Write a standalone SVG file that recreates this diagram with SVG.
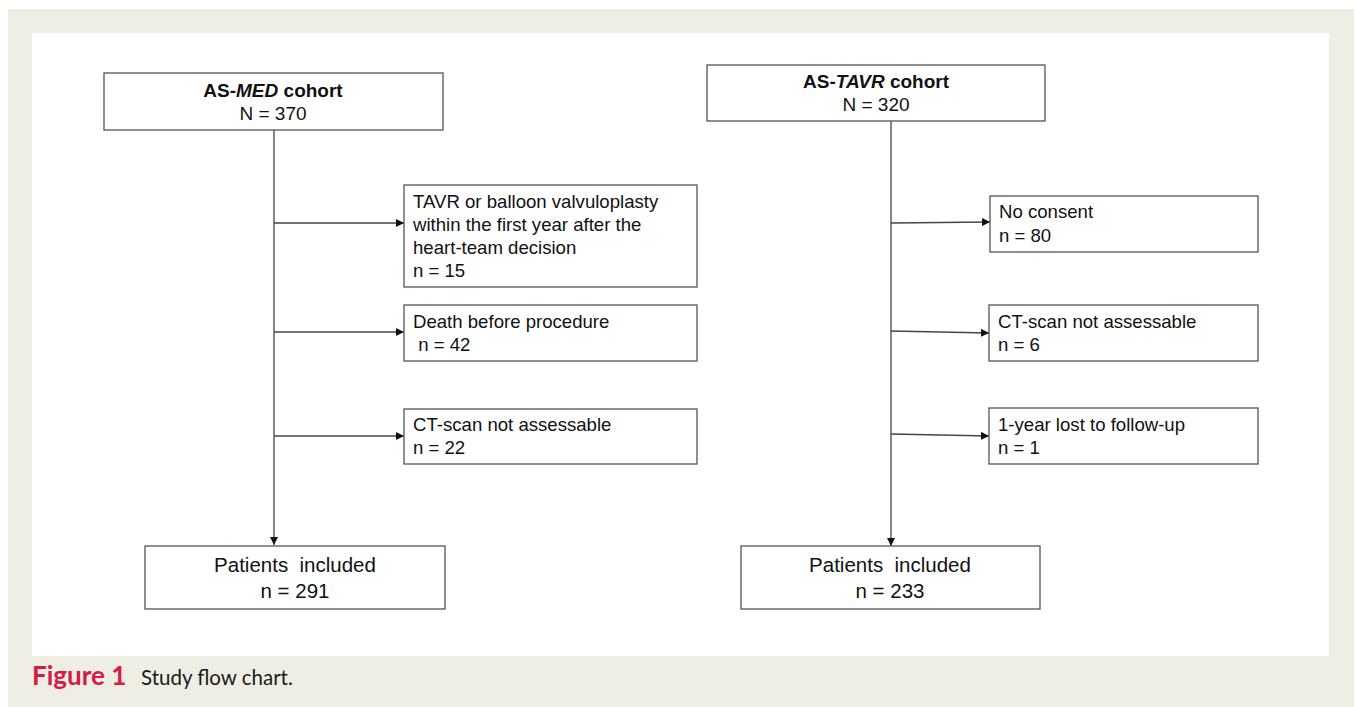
<svg xmlns="http://www.w3.org/2000/svg" width="1356" height="707" viewBox="0 0 1356 707">
<defs>
<marker id="arr" viewBox="0 0 10 10" refX="10" refY="5" markerWidth="8" markerHeight="8" markerUnits="userSpaceOnUse" orient="auto">
<path d="M0,0 L10,5 L0,10 z" fill="#111"/>
</marker>
<style>
.box{fill:#fff;stroke:#555;stroke-width:1.3}
.t{font-family:"Liberation Sans",Arial,sans-serif;font-size:18.6px;fill:#111}
.h{font-family:"Liberation Sans",Arial,sans-serif;font-size:19px;fill:#111;text-anchor:middle}
.p{font-family:"Liberation Sans",Arial,sans-serif;font-size:20.5px;fill:#111;text-anchor:middle}
.c{stroke:#444;stroke-width:1.3;fill:none}
</style>
</defs>
<rect x="0" y="0" width="1356" height="707" fill="#fff"/>
<rect x="8" y="9" width="1346" height="698" fill="#efeee4"/>
<rect x="32" y="33" width="1297" height="623" fill="#fff"/>

<g id="connectors">
<path class="c" d="M274,130 V545" marker-end="url(#arr)"/>
<path class="c" d="M274,223 H404" marker-end="url(#arr)"/>
<path class="c" d="M274,332 H404" marker-end="url(#arr)"/>
<path class="c" d="M274,436 H404" marker-end="url(#arr)"/>
<path class="c" d="M891,121 V546" marker-end="url(#arr)"/>
<path class="c" d="M891,223 L990,222" marker-end="url(#arr)"/>
<path class="c" d="M891,331 L989,333" marker-end="url(#arr)"/>
<path class="c" d="M891,434 L989,436" marker-end="url(#arr)"/>
</g>

<g id="med">
<rect class="box" x="104" y="73" width="339" height="57"/>
<text class="h" x="273" y="97"><tspan font-weight="bold">AS-<tspan font-style="italic">MED</tspan> cohort</tspan></text>
<text class="h" x="273" y="120">N = 370</text>
</g>

<g id="tavr-cohort">
<rect class="box" x="707" y="65" width="338" height="56"/>
<text class="h" x="876" y="88"><tspan font-weight="bold">AS-<tspan font-style="italic">TAVR</tspan> cohort</tspan></text>
<text class="h" x="876" y="111">N = 320</text>
</g>

<g id="ex-tavr">
<rect class="box" x="404" y="185" width="293" height="102"/>
<text class="t" x="413" y="208">TAVR or balloon valvuloplasty</text>
<text class="t" x="413" y="231">within the first year after the</text>
<text class="t" x="413" y="254">heart-team decision</text>
<text class="t" x="413" y="277">n = 15</text>
</g>

<g id="ex-death">
<rect class="box" x="404" y="305" width="293" height="56"/>
<text class="t" x="413" y="328">Death before procedure</text>
<text class="t" x="413" y="351" xml:space="preserve"> n = 42</text>
</g>

<g id="ex-ct-med">
<rect class="box" x="404" y="409" width="293" height="55"/>
<text class="t" x="413" y="431">CT-scan not assessable</text>
<text class="t" x="413" y="454">n = 22</text>
</g>

<g id="ex-consent">
<rect class="box" x="990" y="196" width="268" height="56"/>
<text class="t" x="999" y="218">No consent</text>
<text class="t" x="999" y="242">n = 80</text>
</g>

<g id="ex-ct-tavr">
<rect class="box" x="989" y="305" width="269" height="56"/>
<text class="t" x="998" y="328">CT-scan not assessable</text>
<text class="t" x="998" y="351">n = 6</text>
</g>

<g id="ex-lost">
<rect class="box" x="989" y="408" width="269" height="56"/>
<text class="t" x="998" y="431">1-year lost to follow-up</text>
<text class="t" x="998" y="454">n = 1</text>
</g>

<g id="inc-med">
<rect class="box" x="145" y="546" width="300" height="63"/>
<text class="p" x="295" y="572" xml:space="preserve">Patients  included</text>
<text class="p" x="295" y="598">n = 291</text>
</g>

<g id="inc-tavr">
<rect class="box" x="741" y="546" width="299" height="63"/>
<text class="p" x="890" y="572" xml:space="preserve">Patients  included</text>
<text class="p" x="890" y="598">n = 233</text>
</g>

<text x="32" y="685" font-family="Lato,'Open Sans',sans-serif" font-size="26" font-weight="bold" fill="#d61a45">Figure 1</text>
<text x="141" y="685" font-family="Lato,'Open Sans',sans-serif" font-size="20.5" fill="#1a1a1a">Study flow chart.</text>
</svg>
